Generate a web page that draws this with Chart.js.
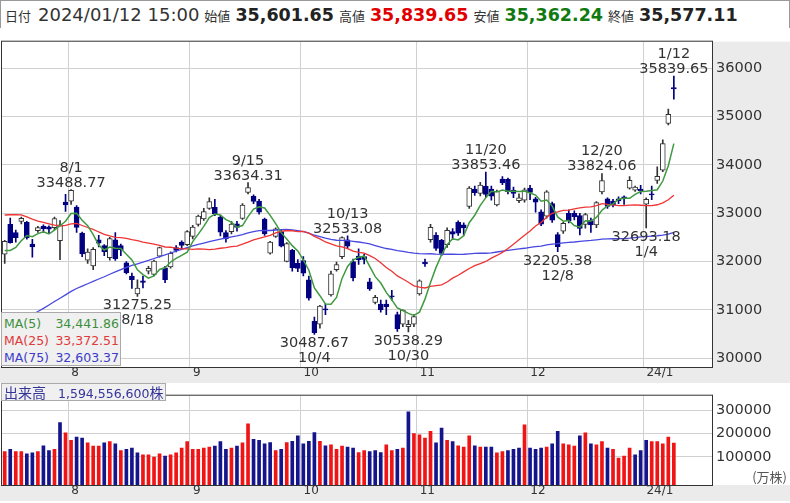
<!DOCTYPE html>
<html lang="ja">
<head>
<meta charset="utf-8">
<title>日経平均 日足</title>
<script src="https://cdn.jsdelivr.net/npm/chart.js@4.4.1/dist/chart.umd.min.js"></script>
<style>
  body { margin: 0; background: #fff; font-family: "DejaVu Sans", "Noto Sans CJK JP", sans-serif; }
  #wrap { position: relative; width: 790px; height: 503px; overflow: hidden; background: #fff; }
  #hdr { position: absolute; left: 0; top: 0; width: 790px; height: 28px; border: 1px solid #999; border-bottom: none;
         white-space: nowrap; line-height: 27px; color: #333; padding-left: 3px; box-sizing: border-box; }
  #hdr .k { font-family: "Noto Sans CJK JP"; font-size: 13px; margin: 0 5px; }
  #hdr .d { font-size: 18px; }
  #hdr .v { font-size: 17.5px; font-weight: bold; color: #222; }
  #hdr .r { color: #e00000; }
  #hdr .g { color: #107a10; }
  canvas { position: absolute; left: 0; }
  #price { top: 29px; }
  #vol { top: 383px; }
  #maBox { position: absolute; left: 1px; top: 312px; width: 120px; height: 54px; background: #f0f0f0;
           border: 1px solid #aaa; font-size: 12.5px; line-height: 17px; box-sizing: border-box; padding: 2px 1px 0 2px; }
  #maBox div { display: flex; justify-content: space-between; }
  #volBox { position: absolute; left: 1px; top: 383px; height: 18px; background: #f0f0f0; border: 1px solid #aaa;
            box-sizing: border-box; color: #333399; line-height: 16px; padding: 0 2px; white-space: nowrap; }
  #volBox .k { font-family: "Noto Sans CJK JP"; font-size: 14px; margin-right: 12px; }
  #volBox .n { font-size: 12.5px; }
</style>
</head>
<body>
<div id="wrap">
  <div id="hdr"></div>
  <canvas id="price" width="790" height="354"></canvas>
  <canvas id="vol" width="790" height="118"></canvas>
  <div id="maBox">
    <div style="color:#3d8f3d"><span>MA(5)</span><span id="ma5v"></span></div>
    <div style="color:#e03a3a"><span>MA(25)</span><span id="ma25v"></span></div>
    <div style="color:#3c3cc8"><span>MA(75)</span><span id="ma75v"></span></div>
  </div>
  <div id="volBox"><span class="k">出来高</span><span class="n" id="volv"></span><span class="k" style="margin:0">株</span></div>
</div>
<script>
// 日足 2023/7/13 - 2024/1/12
const dates = [
  '7/13','7/14','7/18','7/19','7/20','7/21','7/24','7/25','7/26','7/27','7/28','7/31',
  '8/1','8/2','8/3','8/4','8/7','8/8','8/9','8/10','8/14','8/15','8/16','8/17','8/18','8/21','8/22','8/23','8/24','8/25','8/28','8/29','8/30','8/31',
  '9/1','9/4','9/5','9/6','9/7','9/8','9/11','9/12','9/13','9/14','9/15','9/19','9/20','9/21','9/22','9/25','9/26','9/27','9/28','9/29',
  '10/2','10/3','10/4','10/5','10/6','10/10','10/11','10/12','10/13','10/16','10/17','10/18','10/19','10/20','10/23','10/24','10/25','10/26','10/27','10/30','10/31',
  '11/1','11/2','11/6','11/7','11/8','11/9','11/10','11/13','11/14','11/15','11/16','11/17','11/20','11/21','11/22','11/24','11/27','11/28','11/29','11/30',
  '12/1','12/4','12/5','12/6','12/7','12/8','12/11','12/12','12/13','12/14','12/15','12/18','12/19','12/20','12/21','12/22','12/25','12/26','12/27','12/28','12/29',
  '1/4','1/5','1/9','1/10','1/11','1/12'
];

const opens = [
  32150,32770,32600,32830,32810,32360,32640,32730,32720,32700,32430,33230,
  33250,33130,32590,32030,31910,32450,32330,32080,32450,32330,31970,31700,31330,31600,31800,31730,32110,31870,31890,32290,32400,32350,
  32520,32770,32880,33100,33120,32920,32600,32620,32780,32890,33430,33350,33250,32880,32170,32520,32620,32000,32230,31960,
  32020,31620,30760,30700,31020,31310,31830,32100,32450,32000,32110,32100,31580,31150,31120,31120,31290,30900,30700,30650,30700,
  31330,31990,32450,32540,32440,32350,32620,32810,32760,33140,33500,33410,33560,33500,33170,33710,33700,33480,33260,33270,
  33520,33300,33030,32940,33200,32560,32630,33000,33000,32950,32770,32850,32760,33440,33300,33250,33300,33340,33520,33480,33500,
  33190,33400,33680,33890,34860,35601.65
];
const highs = [
  32440,32900,32650,32920,32830,32460,32730,32760,32740,32920,32850,33390,
  33488.77,33160,32610,32260,32290,32540,32350,32500,32600,32360,32000,31760,31620,31700,31900,32030,32300,31900,32200,32330,32430,32640,
  32750,32960,33100,33320,33290,32960,32640,32830,32830,33200,33634.31,33380,33290,32900,32420,32700,32650,32390,32250,32040,
  32100,31700,30850,31090,31120,31800,31990,32510,32533.08,32050,32260,32150,31650,31300,31200,31200,31400,30950,31000,30780,30900,
  31620,32050,32770,32600,32460,32700,32680,32840,32800,33550,33560,33640,33853.46,33560,33480,33760,33730,33540,33400,33520,
  33580,33330,33070,33470,33230,32600,32810,33070,33050,33000,33000,32900,33240,33824.06,33320,33290,33340,33360,33760,33560,33580,
  33320,33560,33960,34520,35160,35839.65
];
const lows = [
  31960,32380,32400,32780,32460,32090,32600,32600,32590,32660,32040,33040,
  33180,32600,32100,31960,31830,32300,32120,32030,32020,32120,31740,31440,31275.25,31450,31740,31700,32090,31560,31860,32200,32260,32330,
  32470,32730,32850,33080,32950,32530,32400,32570,32630,32870,33400,33200,32980,32540,32150,32500,32300,31990,31800,31790,
  31700,31200,30487.67,30620,30900,31280,31800,32060,32270,31600,31940,31950,31400,31120,30950,30900,31200,30550,30650,30538.29,30650,
  31300,31900,32400,32230,32120,32290,32450,32540,32540,33100,33370,33360,33330,33270,33150,33590,33400,33320,33220,33230,
  33280,33020,32740,32900,32810,32205.38,32580,32800,32860,32550,32690,32600,32700,33400,33100,33130,33200,33180,33500,33450,33400,
  32693.18,33280,33620,33860,34830,35362.24
];
const closes = [
  32419.33,32391.26,32493.89,32896.03,32490.52,32304.25,32700.69,32682.51,32668.34,32891.16,32759.23,33172.22,
  33476.58,32707.69,32159.28,32192.75,32254.56,32377.29,32204.33,32473.65,32059.91,32238.89,31766.82,31626.00,31450.76,31565.64,31856.71,32010.26,32287.21,31624.28,32169.99,32226.97,32333.46,32619.34,
  32710.62,32939.18,33036.76,33241.02,32991.08,32606.84,32467.76,32776.37,32706.52,33168.10,33533.09,33242.59,33023.78,32571.03,32402.41,32678.62,32315.05,32371.90,31872.52,31857.62,
  31759.88,31237.94,30526.88,31075.36,30994.67,31746.53,31936.51,32494.66,32315.99,31659.03,32040.29,32042.25,31430.62,31259.36,30999.55,31062.35,31269.92,30601.78,30991.69,30696.96,30858.85,
  31601.65,31949.89,32708.48,32271.82,32166.48,32646.46,32568.11,32585.11,32695.93,33519.70,33424.41,33585.20,33388.03,33354.14,33451.83,33625.53,33447.67,33408.39,33321.22,33486.89,
  33431.51,33231.27,32775.82,33445.90,32858.31,32307.86,32791.80,32843.71,32926.35,32686.25,32970.55,32758.98,33219.39,33675.94,33140.47,33169.05,33254.03,33305.85,33681.24,33539.62,33464.17,
  33288.29,33377.42,33763.18,34441.72,35049.86,35577.11
];
// 出来高 (万株)
const volumes = [
  123000,133000,123000,123000,113000,118000,123000,148000,128000,133000,248000,204000,
  172000,186000,181000,161000,147000,147000,161000,166000,157000,128000,133000,138000,118000,109000,109000,100000,113000,104000,109000,118000,138000,166000,
  133000,133000,138000,143000,147000,166000,133000,138000,147000,161000,243000,176000,172000,157000,162000,128000,133000,162000,167000,191000,
  157000,167000,205000,167000,148000,152000,133000,147000,143000,138000,119000,128000,123000,128000,119000,152000,128000,133000,138000,294000,201000,
  195000,181000,210000,161000,224000,172000,166000,148000,143000,191000,148000,143000,143000,143000,118000,123000,128000,133000,138000,238000,
  138000,133000,138000,143000,157000,210000,157000,152000,147000,191000,204000,157000,152000,166000,138000,133000,95000,104000,138000,109000,128000,
  172000,166000,166000,157000,186000,159455.66
];
// 表示期間より前の終値 (6/9 - 7/12), 移動平均の計算用
const prevCloses = [
  32265.17,32434.00,33018.65,33502.42,33485.49,33706.08,33370.42,33388.91,33575.14,33264.88,32781.54,32698.81,
  32538.33,33193.99,33234.14,33189.04,33753.33,33422.52,33338.70,32773.02,32388.42,32189.73,32203.57,31943.93
];
// 75日移動平均 (チャートから読み取り)
const ma75 = [
  30596,30661,30723,30791,30850,30905,30964,31029,31098,31170,31238,31308,
  31380,31441,31490,31539,31587,31637,31684,31736,31783,31831,31876,31918,31952,31985,32021,32062,32102,32136,32176,32214,32250,32287,
  32322,32354,32383,32412,32439,32465,32487,32512,32531,32556,32591,32619,32639,32644,32642,32653,32662,32663,32656,32640,
  32617,32587,32544,32514,32482,32458,32440,32436,32431,32419,32404,32388,32365,32331,32299,32269,32249,32225,32209,32189,32174,
  32163,32157,32160,32152,32148,32152,32150,32149,32150,32158,32167,32172,32171,32180,32197,32216,32232,32246,32261,32274,
  32292,32306,32319,32343,32362,32372,32385,32396,32404,32418,32429,32436,32448,32462,32468,32471,32474,32475,32484,32496,32510,
  32516,32525,32533,32545,32569,32603.37
];
const monthLabels = ['8', '9', '10', '11', '12', '24/1'];
const priceTicks = [30000, 31000, 32000, 33000, 34000, 35000, 36000];
const volTicks = [100000, 200000, 300000];
// 高値・安値の注記
const marks = [
  { i: 12, t: 'high' }, { i: 24, t: 'low' }, { i: 44, t: 'high' }, { i: 56, t: 'low' },
  { i: 62, t: 'high' }, { i: 73, t: 'low' }, { i: 87, t: 'high' }, { i: 100, t: 'low' },
  { i: 108, t: 'high' }, { i: 116, t: 'low' }, { i: 121, t: 'high' }
];

const n = closes.length;
const navy = '#000080';
const fmt = v => v.toLocaleString('en-US', { minimumFractionDigits: 2, maximumFractionDigits: 2 });

function movingAvg(len) {
  const all = prevCloses.concat(closes);
  const off = prevCloses.length;
  return closes.map((_, i) => {
    let s = 0;
    for (let k = 0; k < len; k++) s += all[off + i - k];
    return s / len;
  });
}
const ma5 = movingAvg(5);
const ma25 = movingAvg(25);

const monthStarts = [];
for (let i = 1; i < n; i++) {
  if (dates[i].split('/')[0] !== dates[i - 1].split('/')[0]) monthStarts.push(i);
}

const isUp = closes.map((c, i) => c >= opens[i]);
const volColors = closes.map((c, i) => {
  const prev = i ? closes[i - 1] : prevCloses[prevCloses.length - 1];
  return c >= prev ? '#f01414' : '#14148c';
});

// header / legends
document.getElementById('hdr').innerHTML =
  '<span class="k" style="margin:0 7px 0 1px">日付</span><span class="d">2024/01/12 15:00</span>' +
  '<span class="k">始値</span><span class="v">' + fmt(opens[n - 1]) + '</span>' +
  '<span class="k">高値</span><span class="v r">' + fmt(highs[n - 1]) + '</span>' +
  '<span class="k">安値</span><span class="v g">' + fmt(lows[n - 1]) + '</span>' +
  '<span class="k">終値</span><span class="v">' + fmt(closes[n - 1]) + '</span>';
document.getElementById('ma5v').textContent = fmt(ma5[n - 1]);
document.getElementById('ma25v').textContent = fmt(ma25[n - 1]);
document.getElementById('ma75v').textContent = fmt(ma75[n - 1]);
document.getElementById('volv').textContent = Math.round(volumes[n - 1] * 10000).toLocaleString('en-US');

const gridColor = '#d0d0d0';
const xRange = { min: -0.49, max: 127.9 };

function xScale() {
  return {
    type: 'linear', min: xRange.min, max: xRange.max, offset: false,
    afterBuildTicks: s => { s.ticks = monthStarts.map(m => ({ value: m - 0.5 })); },
    afterFit: s => { s.height = 16; },
    ticks: { display: false },
    grid: { color: gridColor, drawTicks: false, offset: false },
    border: { display: false }
  };
}

function yScale(min, max, tickValues) {
  return {
    position: 'right', min, max,
    afterBuildTicks: s => { s.ticks = tickValues.map(v => ({ value: v })); },
    afterFit: s => { s.width = 78; },
    ticks: { font: { family: 'DejaVu Sans', size: 14.5 }, color: '#333', padding: 4, callback: v => String(v) },
    grid: { color: gridColor, drawTicks: false },
    border: { display: false }
  };
}

function decoPlugin(id, withNotes, unitText) {
  return {
    id,
    beforeDraw(chart) {
      const { ctx, chartArea: a, width, height } = chart;
      ctx.save();
      ctx.fillStyle = '#fff';
      ctx.fillRect(0, 0, width, height);
      ctx.fillStyle = '#ebebeb';
      if (withNotes) ctx.fillRect(a.right, a.top, width - a.right, a.bottom - a.top);
      ctx.fillRect(0, a.bottom, width, height - a.bottom);
      ctx.restore();
    },
    afterDraw(chart) {
      const { ctx, chartArea: a, scales: { x, y } } = chart;
      ctx.save();
      ctx.strokeStyle = '#333';
      ctx.lineWidth = 1;
      ctx.strokeRect(a.left - 0.5, a.top - 0.5, a.right - a.left + 1, a.bottom - a.top + 1);

      ctx.fillStyle = '#333';
      ctx.font = '12px "DejaVu Sans"';
      ctx.textAlign = 'left';
      ctx.textBaseline = 'middle';
      monthStarts.forEach((m, k) => ctx.fillText(monthLabels[k], x.getPixelForValue(m - 0.5) + 3, a.bottom + 6));

      if (withNotes) {
        ctx.font = '14.5px "DejaVu Sans"';
        ctx.textAlign = 'center';
        ctx.textBaseline = 'alphabetic';
        marks.forEach(m => {
          const px = x.getPixelForValue(m.i);
          if (m.t === 'high') {
            const py = y.getPixelForValue(highs[m.i]);
            ctx.fillText(highs[m.i].toFixed(2), px, py - 3);
            ctx.fillText(dates[m.i], px, py - 18);
          } else {
            const py = y.getPixelForValue(lows[m.i]);
            ctx.fillText(lows[m.i].toFixed(2), px, py + 13);
            ctx.fillText(dates[m.i], px, py + 28);
          }
        });
      }
      if (unitText) {
        ctx.fillStyle = '#555';
        ctx.font = '13px "Noto Sans CJK JP"';
        ctx.textAlign = 'right';
        ctx.textBaseline = 'alphabetic';
        ctx.fillText(unitText, chart.width - 3, a.bottom - 3);
      }
      ctx.restore();
    }
  };
}

const pts = arr => arr.map((v, i) => ({ x: i, y: v }));

new Chart(document.getElementById('price'), {
  type: 'bar',
  data: {
    datasets: [
      { type: 'line', data: pts(ma5), borderColor: '#3f9a3f', borderWidth: 1.5, pointRadius: 0, tension: 0, order: 0 },
      { type: 'line', data: pts(ma25), borderColor: '#ee3434', borderWidth: 1.3, pointRadius: 0, tension: 0, order: 0 },
      { type: 'line', data: pts(ma75), borderColor: '#4848e0', borderWidth: 1.3, pointRadius: 0, tension: 0, order: 0 },
      {
        data: opens.map((o, i) => ({ x: i, y: [o, closes[i]] })),
        backgroundColor: isUp.map(u => u ? '#fff' : navy),
        borderColor: isUp.map(u => u ? '#333' : navy),
        borderWidth: 1, borderSkipped: false, barThickness: 5, minBarLength: 1, grouped: false, order: 1
      },
      {
        data: lows.map((l, i) => ({ x: i, y: [l, highs[i]] })),
        backgroundColor: isUp.map(u => u ? '#333' : navy),
        barThickness: 1, grouped: false, order: 2
      }
    ]
  },
  options: {
    responsive: false,
    animation: false,
    layout: { padding: { left: 2, right: 0, top: 1, bottom: 0 } },
    plugins: { legend: { display: false }, tooltip: { enabled: false } },
    scales: { x: xScale(), y: yScale(29814, 36554, priceTicks) }
  },
  plugins: [decoPlugin('priceDeco', true, null)]
});

const volMin = -20500;
new Chart(document.getElementById('vol'), {
  type: 'bar',
  data: {
    datasets: [{
      data: pts(volumes),
      backgroundColor: volColors,
      barThickness: 3, base: volMin, grouped: false
    }]
  },
  options: {
    responsive: false,
    animation: false,
    layout: { padding: { left: 2, right: 0, top: 1, bottom: 0 } },
    plugins: { legend: { display: false }, tooltip: { enabled: false } },
    scales: { x: xScale(), y: yScale(volMin, 363500, volTicks) }
  },
  plugins: [decoPlugin('volDeco', false, '(万株)')]
});
</script>
</body>
</html>
